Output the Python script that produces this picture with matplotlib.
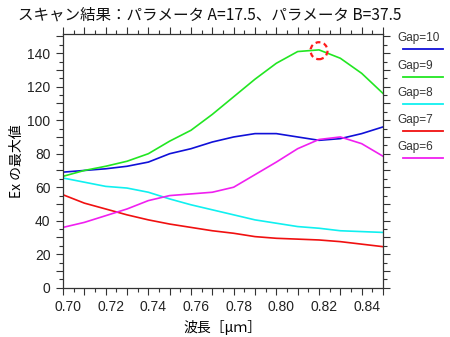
import matplotlib
matplotlib.use("Agg")
import matplotlib.pyplot as plt
import matplotlib.ticker as ticker
import matplotlib.transforms as mtransforms
from matplotlib.lines import Line2D

# wavelength samples [um]
wavelength = [0.70, 0.71, 0.72, 0.73, 0.74, 0.75, 0.76, 0.77,
              0.78, 0.79, 0.80, 0.81, 0.82, 0.83, 0.84, 0.85]

# peak Ex for each gap
gap10 = [69, 70, 71, 72.5, 75, 80, 83, 87, 90, 92, 92, 90, 88, 89, 92, 96]
gap9 = [66.5, 70, 72.5, 75.5, 80, 87.5, 94, 103.5, 114, 124.5, 134, 141, 142, 137, 128, 116]
gap8 = [65.5, 63, 60.5, 59.5, 57, 53, 49.5, 46.5, 43.5, 40.5, 38.5, 36.5, 35.5, 34, 33.5, 33]
gap7 = [55.5, 50.5, 47, 43.5, 40.5, 38, 36, 34, 32.5, 30.5, 29.5, 29, 28.5, 27.5, 26, 24.5]
gap6 = [36, 39, 43, 47, 52, 55, 56, 57, 60, 67.5, 75, 83, 88.5, 90, 86, 78.5]

series_labels = ["Gap=10", "Gap=9", "Gap=8", "Gap=7", "Gap=6"]
series_colors = ["#1010d8", "#22e622", "#10f0f0", "#f01010", "#f020f0"]

# best point (marked with a dashed circle)
best_x = 0.82
best_y = 141.5

title_text = "スキャン結果：パラメータ A=17.5、パラメータ B=37.5"
xlabel_text = "波長［μｍ］"
ylabel_text = "Ex の最大値"

plt.rcParams["font.family"] = ["Liberation Sans", "DejaVu Sans"]
jp = ["Noto Sans CJK JP", "DejaVu Sans"]

fig = plt.figure(figsize=(4.5, 3.37), dpi=100)
ax = fig.add_axes([63 / 450, 1 - 287.7 / 337, (383 - 63) / 450, (287.7 - 34.3) / 337])

for ys, c in zip([gap10, gap9, gap8, gap7, gap6], series_colors):
    ax.plot(wavelength, ys, color=c, lw=1.2, solid_joinstyle="miter")

ax.scatter([best_x], [best_y], s=150, facecolors="none", edgecolors="#ff1a1a",
           linewidths=1.6, linestyles=(0, (2.2, 1.6)), zorder=5)

ax.set_xlim(0.70, 0.85)
ax.set_ylim(0, 151.3)

ax.xaxis.set_major_locator(ticker.MultipleLocator(0.01))
ax.xaxis.set_minor_locator(ticker.MultipleLocator(0.005))
ax.xaxis.set_major_formatter(ticker.FuncFormatter(
    lambda v, p: "%.2f" % v if round(v * 100) % 2 == 0 else ""))
ax.yaxis.set_major_locator(ticker.MultipleLocator(10))
ax.yaxis.set_minor_locator(ticker.MultipleLocator(5))
ax.yaxis.set_major_formatter(ticker.FuncFormatter(
    lambda v, p: "%d" % v if round(v) % 20 == 0 else ""))

ax.tick_params(which="both", direction="out", top=True, right=True,
               labelsize=10, width=0.8, colors="#333333", labelcolor="#222222")
ax.tick_params(which="major", length=5, pad=4)
ax.tick_params(which="minor", length=3)

# x tick labels sit a little to the right of their ticks
shift = mtransforms.ScaledTranslation(5 / 100, 0, fig.dpi_scale_trans)
for lab in ax.get_xticklabels():
    lab.set_transform(lab.get_transform() + shift)

for s in ax.spines.values():
    s.set_linewidth(0.9)
    s.set_color("#333333")

ax.set_xlabel(xlabel_text, family=jp, fontsize=10, labelpad=4)
ax.set_ylabel(ylabel_text, family=jp, fontsize=10, labelpad=2)

fig.text(18 / 450, 1 - 15 / 337, title_text, family=jp, fontsize=11.2,
         ha="left", va="center", color="#111111")

# legend on the right, label above its line sample
for i, (lab, c) in enumerate(zip(series_labels, series_colors)):
    ty = 38.3 + i * 27.2
    ly = 49.3 + i * 27.2
    fig.text(397 / 450, 1 - ty / 337, lab, fontsize=8.5,
             ha="left", va="center", color="#333333")
    fig.add_artist(Line2D([403 / 450, 443 / 450], [1 - ly / 337, 1 - ly / 337],
                          color=c, lw=1.3, transform=fig.transFigure))

fig.savefig("out.png", dpi=100)
